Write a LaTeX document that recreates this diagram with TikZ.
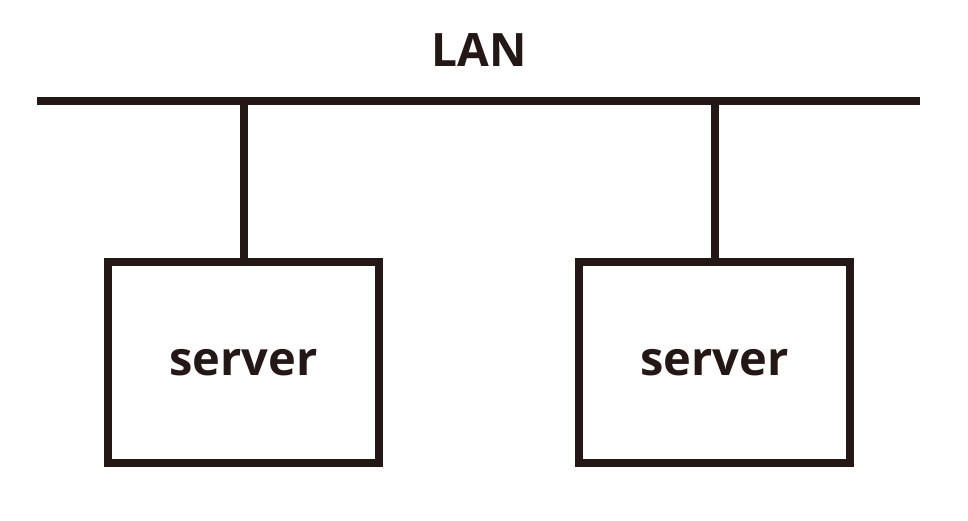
\documentclass[tikz,border=0pt]{standalone}
\usepackage{fontspec}
\setmainfont{Open Sans}[BoldFont={Open Sans Bold}]
\usetikzlibrary{positioning}
\definecolor{inkBlack}{HTML}{231815}
\tikzset{
  busline/.style  = {inkBlack, line width=8pt},
  dropline/.style = {inkBlack, line width=8pt},
  srvbox/.style   = {draw=inkBlack, line width=8pt, minimum width=271pt,
                     minimum height=201pt, inner sep=0pt,
                     font=\fontsize{47}{56}\selectfont\bfseries, text=inkBlack},
  buslbl/.style   = {font=\fontsize{46}{56}\selectfont\bfseries, text=inkBlack},
}
\begin{document}
\begin{tikzpicture}[x=1pt,y=-1pt]
  \useasboundingbox (0,0) rectangle (968,520);
  % the LAN bus
  \coordinate (busW) at (37,101);
  \coordinate (busE) at (920,101);
  \draw[busline] (busW) -- (busE);
  \node[buslbl] (lan) at (479,50) {LAN};
  % two servers hanging off the bus
  \node[srvbox] (srvL) at (243.5,362.5) {server};
  \node[srvbox] (srvR) at (714.5,362.5) {server};
  \coordinate (tapL) at (srvL.north |- busW);
  \coordinate (tapR) at (srvR.north |- busW);
  \draw[dropline] (tapL) -- (srvL.north);
  \draw[dropline] (tapR) -- (srvR.north);
\end{tikzpicture}
\end{document}
